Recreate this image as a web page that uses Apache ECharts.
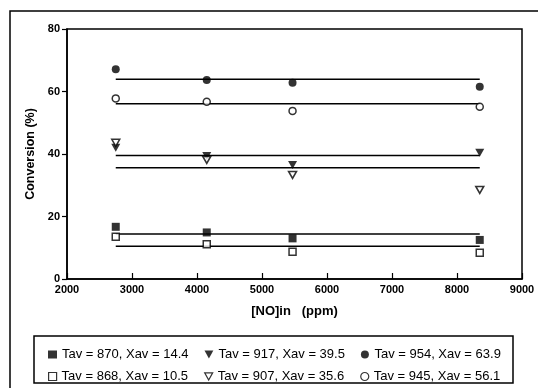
<!DOCTYPE html>
<html>
<head>
<meta charset="utf-8">
<script src="https://cdn.jsdelivr.net/npm/echarts@6/dist/echarts.min.js"></script>
<style>
  html, body { margin: 0; padding: 0; background: #fff; }
  #chart { width: 538px; height: 388px; }
</style>
</head>
<body>
<div id="chart"></div>
<script>
// Inlet NO concentration (ppm) for the four runs
const noIn = [2750, 4150, 5470, 8350];

// Measured conversion (%) at each inlet concentration
const conv870 = [16.7, 14.9, 13.0, 12.5];
const conv868 = [13.5, 11.1, 8.7, 8.4];
const conv917 = [42.0, 39.4, 36.5, 40.4];
const conv907 = [43.6, 38.1, 33.3, 28.5];
const conv954 = [67.1, 63.7, 62.8, 61.5];
const conv945 = [57.8, 56.7, 53.8, 55.1];

// Average conversion for each temperature set
const xav870 = 14.4, xav868 = 10.5, xav917 = 39.5, xav907 = 35.6, xav954 = 63.9, xav945 = 56.1;

const names = [
  'Tav = 870, Xav = 14.4', 'Tav = 917, Xav = 39.5', 'Tav = 954, Xav = 63.9',
  'Tav = 868, Xav = 10.5', 'Tav = 907, Xav = 35.6', 'Tav = 945, Xav = 56.1'
];

const xTicks = [2000, 3000, 4000, 5000, 6000, 7000, 8000, 9000];
const yTicks = [0, 20, 40, 60, 80];

const FONT = 'Liberation Sans, Arial, sans-serif';
const triDown = 'path://M0,0L10,0L5,9Z';

const filled = { color: '#000' };
const hollow = { color: '#fff', borderColor: '#000', borderWidth: 1.5 };

function pts(ys) { return noIn.map((x, i) => [x, ys[i]]); }
function avgLine(v) {
  return {
    type: 'line', silent: true, symbol: 'none', z: 1,
    lineStyle: { color: '#000', width: 1.5 },
    data: [[noIn[0], v], [noIn[noIn.length - 1], v]]
  };
}

const scatter = [
  { name: names[0], data: pts(conv870), symbol: 'rect', symbolSize: 8, itemStyle: filled },
  { name: names[1], data: pts(conv917), symbol: triDown, symbolSize: [9, 8], itemStyle: filled },
  { name: names[2], data: pts(conv954), symbol: 'circle', symbolSize: 8, itemStyle: filled },
  { name: names[3], data: pts(conv868), symbol: 'rect', symbolSize: 7, itemStyle: hollow },
  { name: names[4], data: pts(conv907), symbol: triDown, symbolSize: [8, 7], itemStyle: hollow },
  { name: names[5], data: pts(conv945), symbol: 'circle', symbolSize: 7, itemStyle: hollow }
].map(s => Object.assign({ type: 'scatter', z: 3 }, s));

const lines = [xav870, xav868, xav917, xav907, xav954, xav945].map(avgLine);

const legendCommon = {
  orient: 'horizontal', left: 43, itemHeight: 8, itemGap: 16,
  textStyle: { fontFamily: FONT, fontSize: 13, color: '#000' },
  selectedMode: false
};

const chart = echarts.init(document.getElementById('chart'), null, { renderer: 'canvas' });
chart.setOption({
  animation: false,
  backgroundColor: '#fff',
  grid: { left: 67, right: 16, top: 29, bottom: 109, show: true, borderColor: '#000', borderWidth: 1.5, backgroundColor: 'transparent' },
  xAxis: {
    type: 'value', min: xTicks[0], max: xTicks[xTicks.length - 1], interval: 1000,
    name: '[NO]in   (ppm)', nameLocation: 'middle', nameGap: 26,
    nameTextStyle: { fontFamily: FONT, fontSize: 13, fontWeight: 'bold', color: '#000' },
    axisLine: { lineStyle: { color: '#000', width: 1.5 } },
    axisTick: { inside: true, length: 6, lineStyle: { color: '#000', width: 1.2 } },
    axisLabel: { fontFamily: FONT, fontSize: 11, fontWeight: 'bold', color: '#000', margin: 5,
      formatter: v => String(v) },
    splitLine: { show: false }
  },
  yAxis: {
    type: 'value', min: yTicks[0], max: yTicks[yTicks.length - 1], interval: 20,
    name: 'Conversion (%)', nameLocation: 'middle', nameGap: 23,
    nameTextStyle: { fontFamily: FONT, fontSize: 12.5, fontWeight: 'bold', color: '#000' },
    axisLine: { show: true, lineStyle: { color: '#000', width: 1.5 } },
    axisTick: { show: true, inside: false, length: 5, lineStyle: { color: '#000', width: 1.2 } },
    axisLabel: { fontFamily: FONT, fontSize: 11, fontWeight: 'bold', color: '#000', margin: 7 },
    splitLine: { show: false }
  },
  legend: [
    Object.assign({ top: 343, itemWidth: 9, itemHeight: 9, data: names.slice(0, 3) }, legendCommon),
    Object.assign({ top: 365, itemWidth: 8, itemHeight: 8, data: names.slice(3, 6),
      itemStyle: { borderWidth: 1.2 } }, legendCommon)
  ],
  graphic: [
    { type: 'rect', silent: true, z: -1, shape: { x: 10, y: 11, width: 540, height: 400 },
      style: { fill: 'none', stroke: '#000', lineWidth: 1.5 } },
    { type: 'rect', silent: true, z: -1, shape: { x: 34, y: 336, width: 479, height: 47 },
      style: { fill: 'none', stroke: '#000', lineWidth: 1.5 } }
  ],
  series: lines.concat(scatter)
});
</script>
</body>
</html>
